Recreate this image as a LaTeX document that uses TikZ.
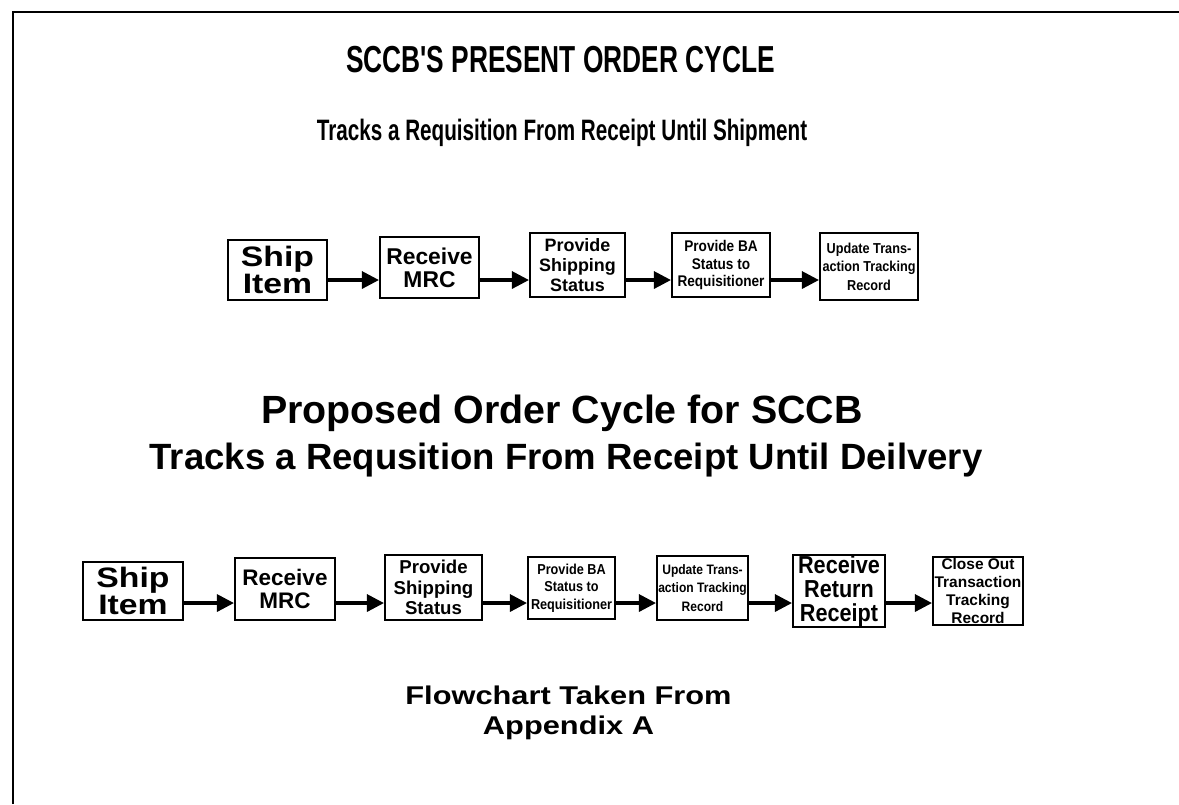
\documentclass[tikz,border=0pt]{standalone}
\usepackage{fontspec}
\setmainfont{Liberation Sans}
\newfontfamily\narrowfont[FakeStretch=0.7]{Liberation Sans}
\newfontfamily\slimfont[FakeStretch=0.88]{Liberation Sans}
\newfontfamily\widefont[FakeStretch=1.2]{Liberation Sans}
\usetikzlibrary{arrows.meta}

\tikzset{
  stepbox/.style={draw, line width=0.6pt, align=center, inner sep=0pt},
  flowarrow/.style={line width=0.9pt, -{Triangle[length=1.7mm,width=1.7mm]}},
}

\begin{document}
\begin{tikzpicture}
\useasboundingbox (0,0) rectangle (11.79,-8.04);

% Cornice (solo lati superiore e sinistro)
\draw[line width=0.7pt] (0.13,-8.04) -- (0.13,-0.12) -- (11.79,-0.12);

% Titolo ciclo attuale
\node[font=\narrowfont\bfseries\fontsize{10.7}{12}\selectfont] (title1) at (5.605,-0.60) {SCCB'S PRESENT ORDER CYCLE};
\node[font=\narrowfont\bfseries\fontsize{8.4}{10}\selectfont] (title2) at (5.62,-1.33) {Tracks a Requisition From Receipt Until Shipment};

% Ciclo attuale
\node[stepbox, minimum width=9.9mm, minimum height=6.0mm, font=\widefont\bfseries\fontsize{8}{7.6}\selectfont] (ship) at (2.775,-2.70) {Ship\\Item};
\node[stepbox, minimum width=9.9mm, minimum height=6.1mm, font=\bfseries\fontsize{6.5}{6.6}\selectfont] (recv) at (4.295,-2.675) {Receive\\MRC};
\node[stepbox, minimum width=9.5mm, minimum height=6.4mm, font=\bfseries\fontsize{5.1}{5.6}\selectfont] (shipstat) at (5.775,-2.65) {Provide\\Shipping\\Status};
\node[stepbox, minimum width=9.8mm, minimum height=6.4mm, font=\slimfont\bfseries\fontsize{4.4}{5}\selectfont] (bastat) at (7.21,-2.65) {Provide BA\\Status to\\Requisitioner};
\node[stepbox, minimum width=9.8mm, minimum height=6.7mm, font=\slimfont\bfseries\fontsize{4.1}{5.3}\selectfont] (update) at (8.69,-2.665) {Update Trans-\\action Tracking\\Record};

\coordinate (toprow) at (0,-2.80);
\foreach \a/\b in {ship/recv, recv/shipstat, shipstat/bastat, bastat/update}
  \draw[flowarrow] (\a.east |- toprow) -- (\b.west |- toprow);

% Titolo ciclo proposto
\node[font=\bfseries\fontsize{11.2}{13}\selectfont] (title3) at (5.62,-4.13) {Proposed Order Cycle for SCCB};
\node[font=\bfseries\fontsize{10.4}{12}\selectfont] (title4) at (5.66,-4.60) {Tracks a Requsition From Receipt Until Deilvery};

% Ciclo proposto
\node[stepbox, minimum width=10.0mm, minimum height=5.8mm, font=\widefont\bfseries\fontsize{8}{7.6}\selectfont] (pship) at (1.33,-5.91) {Ship\\Item};
\node[stepbox, minimum width=10.0mm, minimum height=6.2mm, font=\bfseries\fontsize{6.4}{6.6}\selectfont] (precv) at (2.85,-5.89) {Receive\\MRC};
\node[stepbox, minimum width=9.7mm, minimum height=6.5mm, font=\bfseries\fontsize{5.3}{5.8}\selectfont] (pstat) at (4.335,-5.875) {Provide\\Shipping\\Status};
\node[stepbox, minimum width=8.7mm, minimum height=6.2mm, font=\slimfont\bfseries\fontsize{4.1}{5}\selectfont] (pba) at (5.715,-5.88) {Provide BA\\Status to\\Requisitioner};
\node[stepbox, minimum width=9.1mm, minimum height=6.4mm, font=\slimfont\bfseries\fontsize{3.9}{5.3}\selectfont] (pupd) at (7.025,-5.88) {Update Trans-\\action Tracking\\Record};
\node[stepbox, minimum width=9.2mm, minimum height=6.8mm, font=\slimfont\bfseries\fontsize{7}{6.9}\selectfont] (pret) at (8.39,-5.91) {Receive\\Return\\Receipt};
\node[stepbox, minimum width=9.0mm, minimum height=6.8mm, font=\bfseries\fontsize{4.4}{5.1}\selectfont] (pclose) at (9.78,-5.91) {Close Out\\Transaction\\Tracking\\Record};

\coordinate (botrow) at (0,-6.03);
\foreach \a/\b in {pship/precv, precv/pstat, pstat/pba, pba/pupd, pupd/pret, pret/pclose}
  \draw[flowarrow] (\a.east |- botrow) -- (\b.west |- botrow);

% Nota in basso
\node[align=center, font=\widefont\bfseries\fontsize{7.3}{8.6}\selectfont] (note) at (5.685,-7.13) {Flowchart Taken From\\Appendix A};

\end{tikzpicture}
\end{document}
